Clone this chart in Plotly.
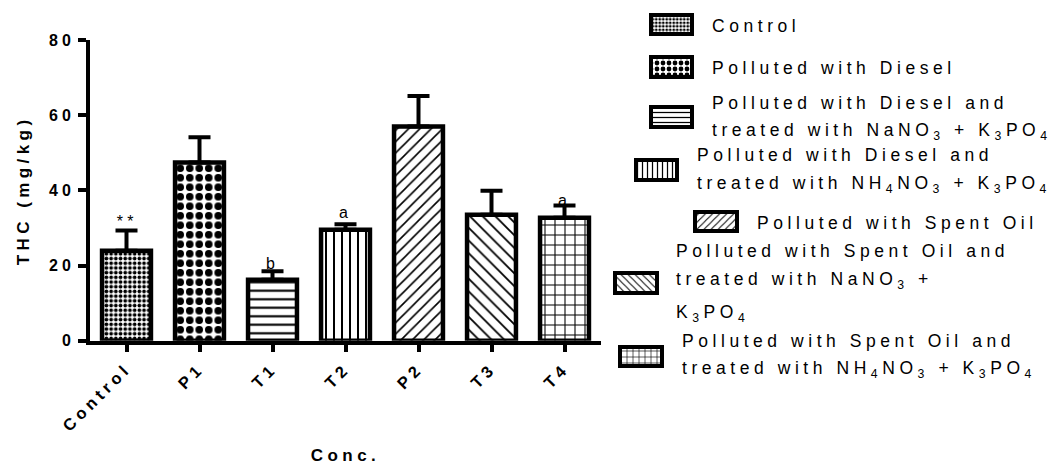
import plotly.graph_objects as go

# ---- data ----
categories = ["Control", "P1", "T1", "T2", "P2", "T3", "T4"]
thc_mean = [23.9, 47.4, 16.2, 29.5, 57.0, 33.5, 32.7]
thc_err = [5.4, 6.7, 2.3, 1.5, 8.1, 6.4, 3.3]
sig_cats = ["Control", "T1", "T2", "T4"]
sig_text = ["**", "b", "a", "a"]
sig_y = [31.6, 20.6, 34.2, 37.4]
y_ticks = [0, 20, 40, 60, 80]
legend_lines = [
    ["Control"],
    ["Polluted with Diesel"],
    ["Polluted with Diesel and", "treated with NaNO<sub>3</sub> + K<sub>3</sub>PO<sub>4</sub>"],
    ["Polluted with Diesel and", "treated with NH<sub>4</sub>NO<sub>3</sub> + K<sub>3</sub>PO<sub>4</sub>"],
    ["Polluted with Spent Oil"],
    ["Polluted with Spent Oil and", "treated with NaNO<sub>3</sub> +", "K<sub>3</sub>PO<sub>4</sub>"],
    ["Polluted with Spent Oil and", "treated with NH<sub>4</sub>NO<sub>3</sub> + K<sub>3</sub>PO<sub>4</sub>"],
]

# ---- styles / layout constants ----
W, H = 1063, 466
pat_shape = [".", ".", "-", "|", "/", "\\", "+"]
pat_size = [4.7, 9.5, 8.5, 8, 8, 9, 10]
pat_solid = [0.5, 0.5, 0.25, 0.25, 0.2, 0.2, 0.2]
leg_pat_size = [3.5, 6, 5, 5, 5, 5, 6]
# legend swatch boxes (px): x0, x1, y0, y1
sw_box = [(651, 692, 15, 34), (651, 692, 57, 77), (651, 692, 107, 127),
          (636, 677, 160, 180), (695, 737, 212, 231), (615, 657, 273, 293),
          (620, 662, 347, 366)]
# legend text lines: left x, list of centre y (px)
txt_pos = [(710, [26]), (710, [68]), (710, [103, 132]), (695, [155, 184]),
           (755, [223]), (674, [251, 280, 313]), (680, [341, 369])]

FONT = "Liberation Sans, Arial, sans-serif"

fig = go.Figure()

fig.add_trace(go.Bar(
    x=categories, y=thc_mean, width=0.67,
    marker=dict(color="white", line=dict(color="black", width=4.5),
                pattern=dict(shape=pat_shape, size=pat_size, solidity=pat_solid,
                             fgcolor="black", bgcolor="white", fillmode="replace")),
    error_y=dict(type="data", array=thc_err, arrayminus=[0] * len(thc_err),
                 symmetric=False, color="black", thickness=4, width=11),
    showlegend=False, hoverinfo="x+y",
))

# legend swatches drawn on a pixel-mapped helper axis
fig.add_trace(go.Bar(
    orientation="h",
    y=[(b[2] + b[3]) / 2 for b in sw_box],
    x=[b[1] - b[0] for b in sw_box],
    base=[b[0] for b in sw_box],
    width=[b[3] - b[2] for b in sw_box],
    xaxis="x2", yaxis="y2",
    marker=dict(color="white", line=dict(color="black", width=4),
                pattern=dict(shape=pat_shape, size=leg_pat_size, solidity=pat_solid,
                             fgcolor="black", bgcolor="white", fillmode="replace")),
    showlegend=False, hoverinfo="skip",
))

annotations = []
for c, t, yv in zip(sig_cats, sig_text, sig_y):
    annotations.append(dict(x=c, y=yv, xref="x", yref="y", text=t, showarrow=False,
                            font=dict(family=FONT, size=16, color="black"),
                            xanchor="center", yanchor="middle"))
N_SIG = len(annotations)
for lines, (lx, ys) in zip(legend_lines, txt_pos):
    for line, ly in zip(lines, ys):
        annotations.append(dict(x=lx / W, y=1 - ly / H, xref="paper", yref="paper",
                                text=line, showarrow=False, xanchor="left", yanchor="middle",
                                font=dict(family=FONT, size=17.5, color="black")))

x0_px, x1_px = 90, 601
y0_px, y1_px = 340.7, 40

fig.update_layout(
    width=W, height=H,
    margin=dict(l=0, r=0, t=0, b=0),
    paper_bgcolor="white", plot_bgcolor="rgba(0,0,0,0)",
    barmode="overlay",
    font=dict(family=FONT, color="black"),
    xaxis=dict(domain=[x0_px / W, x1_px / W], type="category", range=[-0.5, 6.5],
               showline=True, linecolor="black", linewidth=3.5,
               ticks="outside", ticklen=8, tickwidth=3.5, tickcolor="black",
               tickangle=-45, showgrid=False, zeroline=False, automargin=False,
               tickfont=dict(family=FONT, size=16.5, color="black", weight="bold"),
               title=dict(text="Conc.", standoff=38,
                          font=dict(family=FONT, size=17, color="black", weight="bold"))),
    yaxis=dict(domain=[1 - y0_px / H, 1 - y1_px / H], range=[0, 80],
               tickvals=y_ticks, showline=True, linecolor="black", linewidth=3.5,
               ticks="outside", ticklen=8, tickwidth=3.5, tickcolor="black",
               showgrid=False, zeroline=False, automargin=False,
               tickfont=dict(family=FONT, size=16, color="black", weight="bold"),
               title=dict(text="THC (mg/kg)", standoff=24,
                          font=dict(family=FONT, size=17, color="black", weight="bold"))),
    xaxis2=dict(domain=[0, 1], range=[0, W], visible=False, anchor="y2", fixedrange=True),
    yaxis2=dict(domain=[0, 1], range=[H, 0], visible=False, anchor="x2", fixedrange=True),
    annotations=annotations,
)

track_js = """
document.body.style.margin = '0';
document.body.style.overflow = 'hidden';
var gd = document.getElementById('{plot_id}');
var NSIG = %d;
function track(){
  gd.querySelectorAll('text').forEach(function(t){
    if (t.dataset.tracked) { return; }
    var fs = parseFloat(window.getComputedStyle(t).fontSize) || 14;
    var ann = t.closest('.annotation');
    var keepLeft = ann && parseInt(ann.getAttribute('data-index')) >= NSIG;
    var b0 = keepLeft ? t.getBBox() : null;
    t.style.letterSpacing = (0.26*fs).toFixed(2) + 'px';
    if (keepLeft) {
      var b1 = t.getBBox();
      var x = parseFloat(t.getAttribute('x')) || 0;
      t.setAttribute('x', x + (b0.x - b1.x));
    }
    t.dataset.tracked = '1';
  });
}
track();
if (gd.on) { gd.on('plotly_afterplot', track); }
""" % N_SIG

fig.write_html("out.html", post_script=track_js, config={"displayModeBar": False})
